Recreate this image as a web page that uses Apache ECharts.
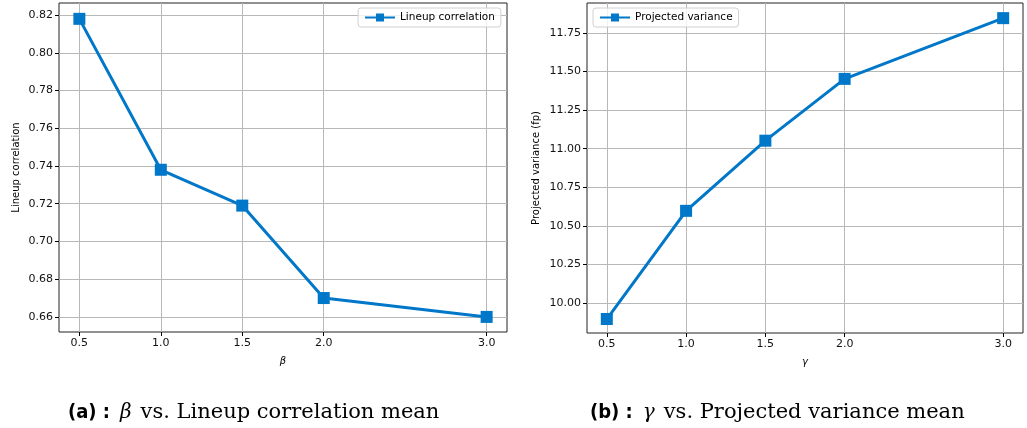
<!DOCTYPE html>
<html>
<head>
<meta charset="utf-8">
<script src="https://cdn.jsdelivr.net/npm/echarts@6/dist/echarts.min.js"></script>
<style>
  html, body { margin: 0; padding: 0; background: #fff; }
  #chart { width: 1027px; height: 428px; }
</style>
</head>
<body>
<div id="chart"></div>
<script>
  // x positions shared by both panels
  var xTicks = [0.5, 1.0, 1.5, 2.0, 3.0];
  var betaValues = [0.5, 1.0, 1.5, 2.0, 3.0];
  var lineupCorr = [0.818, 0.738, 0.719, 0.670, 0.660];
  var gammaValues = [0.5, 1.0, 1.5, 2.0, 3.0];
  var projVariance = [9.898, 10.598, 11.052, 11.452, 11.845];
  var leftYTicks = [0.66, 0.68, 0.70, 0.72, 0.74, 0.76, 0.78, 0.80, 0.82];
  var rightYTicks = [10.00, 10.25, 10.50, 10.75, 11.00, 11.25, 11.50, 11.75];

  var blue = '#0077c8';
  var font = 'DejaVu Sans';

  function pairs(xs, ys) {
    return xs.map(function (x, i) { return [x, ys[i]]; });
  }

  function xAxisFor(idx, name) {
    return {
      type: 'value',
      gridIndex: idx,
      min: 0.375,
      max: 3.125,
      name: name,
      nameLocation: 'middle',
      nameGap: 24,
      nameTextStyle: { fontFamily: 'DejaVu Sans', fontStyle: 'italic', fontSize: 10, color: '#000' },
      axisLine: { show: false },
      axisTick: { show: true, inside: false, length: 4, customValues: xTicks, lineStyle: { color: '#000' } },
      axisLabel: {
        customValues: xTicks, fontFamily: font, fontSize: 11, color: '#111', margin: 6,
        formatter: function (v) { return v.toFixed(1); }
      },
      splitLine: { show: true, lineStyle: { color: '#b8b8b8', width: 1 } }
    };
  }

  function yAxisFor(idx, name, min, max, ticks, digits, gap) {
    return {
      type: 'value',
      gridIndex: idx,
      min: min,
      max: max,
      name: name,
      nameLocation: 'middle',
      nameGap: gap,
      nameTextStyle: { fontFamily: font, fontSize: 10, color: '#000' },
      axisLine: { show: false },
      axisTick: { show: true, inside: false, length: 4, customValues: ticks, lineStyle: { color: '#000' } },
      axisLabel: {
        customValues: ticks, fontFamily: font, fontSize: 11, color: '#111', margin: 6,
        formatter: function (v) { return v.toFixed(digits); }
      },
      splitLine: { show: true, lineStyle: { color: '#b8b8b8', width: 1 } }
    };
  }

  function seriesFor(idx, name, data) {
    return {
      name: name,
      type: 'line',
      xAxisIndex: idx,
      yAxisIndex: idx,
      data: data,
      symbol: 'rect',
      symbolSize: 12,
      showSymbol: true,
      lineStyle: { color: blue, width: 3 },
      itemStyle: { color: blue },
      emphasis: { disabled: true },
      animation: false
    };
  }

  var captionRich = {
    b: { fontFamily: 'DejaVu Sans Condensed', fontWeight: 'bold', fontSize: 20, color: '#000' },
    g: { fontFamily: 'DejaVu Serif', fontStyle: 'italic', fontWeight: 'normal', fontSize: 20, color: '#000', padding: [0, 9, 0, 10] },
    t: { fontFamily: 'DejaVu Serif', fontWeight: 'normal', fontSize: 21, color: '#000' }
  };

  var chart = echarts.init(document.getElementById('chart'));
  chart.setOption({
    animation: false,
    grid: [
      { left: 59, top: 3, width: 448, height: 329, show: true, borderColor: '#222', borderWidth: 1, containLabel: false },
      { left: 587, top: 3, width: 436, height: 330, show: true, borderColor: '#222', borderWidth: 1, containLabel: false }
    ],
    legend: [
      {
        data: ['Lineup correlation'], left: 358, top: 8,
        itemWidth: 30, itemHeight: 10, itemGap: 5,
        textStyle: { fontFamily: font, fontSize: 10.5, color: '#000' },
        borderColor: '#d0d0d0', borderWidth: 1, borderRadius: 3, padding: [4, 6, 4, 6],
        backgroundColor: 'rgba(255,255,255,0.8)'
      },
      {
        data: ['Projected variance'], left: 593, top: 8,
        itemWidth: 30, itemHeight: 10, itemGap: 5,
        textStyle: { fontFamily: font, fontSize: 10.5, color: '#000' },
        borderColor: '#d0d0d0', borderWidth: 1, borderRadius: 3, padding: [4, 6, 4, 6],
        backgroundColor: 'rgba(255,255,255,0.8)'
      }
    ],
    xAxis: [xAxisFor(0, 'β'), xAxisFor(1, 'γ')],
    yAxis: [
      yAxisFor(0, 'Lineup correlation', 0.652, 0.8264, leftYTicks, 2, 38),
      yAxisFor(1, 'Projected variance (fp)', 9.8075, 11.943, rightYTicks, 2, 46)
    ],
    series: [
      seriesFor(0, 'Lineup correlation', pairs(betaValues, lineupCorr)),
      seriesFor(1, 'Projected variance', pairs(gammaValues, projVariance))
    ],
    title: [
      {
        left: 63, top: 397,
        text: '{b|(a) :}{g|β}{t|vs. Lineup correlation mean}',
        textStyle: { fontWeight: 'normal', rich: captionRich }
      },
      {
        left: 585, top: 397,
        text: '{b|(b) :}{g|γ}{t|vs. Projected variance mean}',
        textStyle: { fontWeight: 'normal', rich: captionRich }
      }
    ]
  });
</script>
</body>
</html>
